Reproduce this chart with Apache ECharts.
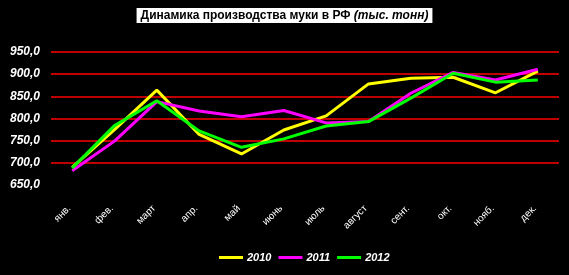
<!DOCTYPE html>
<html><head><meta charset="utf-8">
<script src="https://cdn.jsdelivr.net/npm/echarts@6/dist/echarts.min.js"></script>
<style>html,body{margin:0;padding:0;background:#000;}#c{width:569px;height:275px;}</style>
</head><body><div id="c"></div>
<script>
const categories = ['янв.','фев.','март','апр.','май','июнь','июль','август','сент.','окт.','нояб.','дек.'];
const s2010 = [690, 775, 864, 764, 720, 774, 806, 878, 891, 893, 858, 907];
const s2011 = [682, 749, 838, 817, 804, 818, 790, 793, 857, 904, 887, 911];
const s2012 = [688, 784, 840, 772, 735, 754, 783, 793, 846, 902, 882, 887];
const yTicks = [650, 700, 750, 800, 850, 900, 950];
const seriesNames = ['2010','2011','2012'];
const colors = ['#ffff00','#ff00ff','#00ff00'];

const chart = echarts.init(document.getElementById('c'), null, {renderer:'canvas'});
const mk = (name, data, color) => ({
  name, type:'line', data, symbol:'none', smooth:false,
  lineStyle:{color, width:3}, itemStyle:{color}
});
chart.setOption({
  backgroundColor:'#000',
  animation:false,
  title:{
    text:'{b|Динамика производства муки в РФ }{i|(тыс. тонн)}',
    left:'center', top:8,
    backgroundColor:'#fff', padding:[2,4,1,4],
    textStyle:{rich:{
      b:{fontFamily:'Liberation Sans, Arial', fontWeight:'bold', fontSize:12, color:'#000'},
      i:{fontFamily:'Liberation Sans, Arial', fontStyle:'italic', fontSize:12, color:'#000'}
    }}
  },
  legend:{
    data:seriesNames, bottom:7, left:214,
    icon:'rect', itemWidth:24, itemHeight:3, itemGap:7,
    textStyle:{color:'#fff', fontWeight:'bold', fontStyle:'italic', fontSize:11, fontFamily:'Liberation Sans, Arial', padding:[0,0,0,-1]}
  },
  grid:{left:51, right:10, top:52, height:133, containLabel:false},
  xAxis:{
    type:'category', data:categories, boundaryGap:true,
    axisLine:{show:false}, axisTick:{show:false},
    axisLabel:{color:'#fff', rotate:45, fontSize:10, fontFamily:'Liberation Sans, Arial', margin:19, interval:0, padding:[0,4,0,0]}
  },
  yAxis:{
    type:'value', min:yTicks[0], max:yTicks[yTicks.length-1], interval:50,
    axisLine:{show:false}, axisTick:{show:false},
    axisLabel:{color:'#fff', fontWeight:'bold', fontStyle:'italic', fontSize:12, fontFamily:'Liberation Sans, Arial', margin:11,
      formatter:v => v.toFixed(1).replace('.', ',')},
    splitLine:{show:true, showMinLine:false, lineStyle:{color:'#ff0000', width:1.5}}
  },
  series:[mk(seriesNames[0], s2010, colors[0]), mk(seriesNames[1], s2011, colors[1]), mk(seriesNames[2], s2012, colors[2])]
});
</script></body></html>
